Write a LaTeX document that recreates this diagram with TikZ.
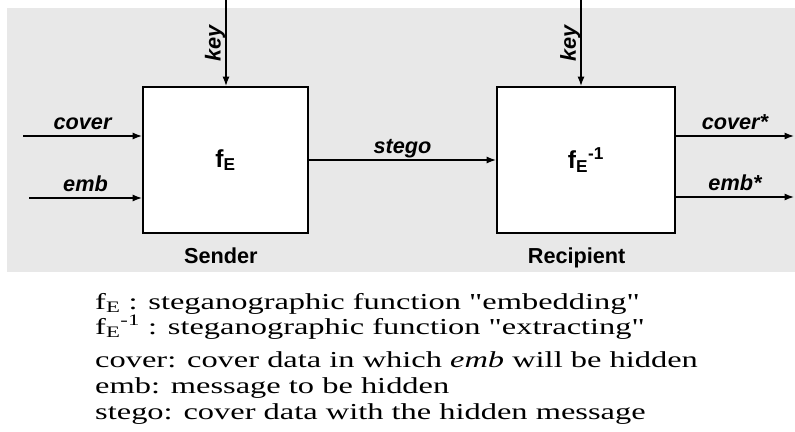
\documentclass[tikz,border=0pt]{standalone}
\usepackage{fontspec}
\setmainfont{Liberation Serif}
\newfontfamily\diagfont{Liberation Sans}
\newfontfamily\notefont[FakeStretch=1.42]{Liberation Serif}
\usetikzlibrary{arrows.meta, positioning}
\usepackage{xcolor}
\definecolor{panel}{RGB}{232, 232, 232}
\newcommand{\labelfont}{\diagfont\fontsize{18.5}{20}\selectfont\bfseries\itshape}
\newcommand{\captionfont}{\diagfont\fontsize{18.5}{20}\selectfont\bfseries}
\newcommand{\funcfont}{\diagfont\fontsize{21}{22}\selectfont\bfseries}
\newcommand{\legendfont}{\notefont\fontsize{19.5}{22}\selectfont}
\tikzstyle{block}   = [rectangle, draw=black, fill=white, line width=1.6pt,
                       minimum height=4.38cm, font=\funcfont]
\tikzstyle{arrow}   = [-{Latex[length=2.8mm, width=2.1mm]}, line width=1.3pt]
\tikzstyle{signal}  = [above, inner sep=0pt, text depth=0pt, yshift=5pt, font=\labelfont]
\tikzstyle{keytag}  = [rotate=90, above, inner sep=0pt, font=\labelfont]
\tikzstyle{caption} = [inner sep=0pt, font=\captionfont]
\tikzstyle{legend}  = [anchor=base west, inner sep=0pt, font=\legendfont]

\begin{document}
\begin{tikzpicture}[x=0.03cm, y=-0.03cm]
  \useasboundingbox (0,0) rectangle (795,432);
  \fill [panel] (7,8) rectangle (795,272);

  \node (sender)    [block, minimum width=4.95cm] at (225.5,160) {f\textsubscript{E}};
  \node (recipient) [block, minimum width=5.34cm] at (586,160) {f\textsubscript{E}\textsuperscript{-1}};
  \node (sname) [caption, below=0.4cm of sender, xshift=-4pt]    {Sender};
  \node (rname) [caption, below=0.4cm of recipient, xshift=-8pt] {Recipient};

  \coordinate (coverin)  at (23,136);
  \coordinate (embin)    at (29,198);
  \coordinate (keys)     at (226,0);
  \coordinate (keyr)     at (581,0);
  \coordinate (coverout) at (794,136);
  \coordinate (embout)   at (794,197);

  \draw [arrow] (coverin) -- node[signal] {cover} (coverin -| sender.west);
  \draw [arrow] (embin) -- node[signal] {emb} (embin -| sender.west);
  \draw [arrow] (keys) -- node[keytag] {key} (keys |- sender.north);
  \draw [arrow] (sender.east) -- node[signal] {stego} (recipient.west);
  \draw [arrow] (keyr) -- node[keytag] {key} (keyr |- recipient.north);
  \draw [arrow] (coverout -| recipient.east) -- node[signal] {cover*} (coverout);
  \draw [arrow] (embout -| recipient.east) -- node[signal] {emb*} (embout);

  % legend
  \node (line1) [legend] at (95,309) {f\textsubscript{E} : steganographic function "embedding"};
  \node (line2) [legend] at (95,334) {f\textsubscript{E}\textsuperscript{-1} : steganographic function "extracting"};
  \node (line3) [legend] at (95,367) {cover: cover data in which \emph{emb} will be hidden};
  \node (line4) [legend] at (95,393) {emb: message to be hidden};
  \node (line5) [legend] at (95,419) {stego: cover data with the hidden message};
\end{tikzpicture}
\end{document}
